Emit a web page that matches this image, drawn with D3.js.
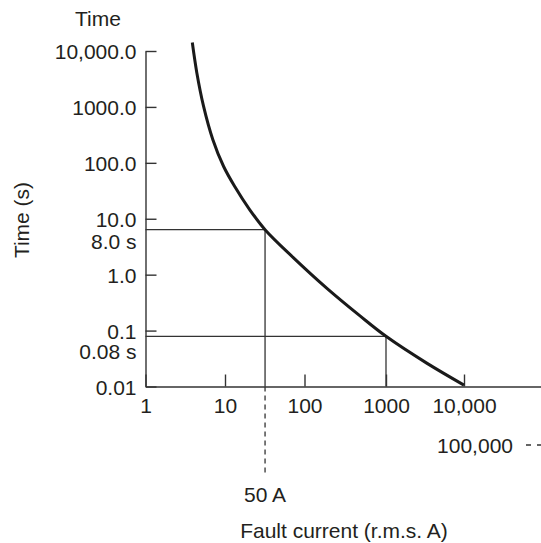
<!DOCTYPE html>
<html>
<head>
<meta charset="utf-8">
<script src="https://cdn.jsdelivr.net/npm/d3@7"></script>
<style>
  html, body { margin: 0; padding: 0; background: #fff; }
  svg { display: block; }
  text { font-family: "Liberation Sans", Arial, Helvetica, sans-serif; font-size: 21px; fill: #231f20; }
</style>
</head>
<body>
<svg id="chart" width="541" height="543"></svg>
<script>
// ---- data ----
const curveCurrent = [3.88, 4.42, 5.37, 7.02, 9.58, 13.2, 20.4, 31.9, 72.3, 187, 480, 1000, 3327, 10000];
const curveTime    = [14160, 4100, 1033, 262, 86.9, 38.1, 14.6, 6.38, 2.02, 0.575, 0.183, 0.079, 0.0262, 0.0106];

const xTickValues = [1, 10, 100, 1000, 10000];
const xTickLabels = ["1", "10", "100", "1000", "10,000"];
const yTickValues = [0.01, 0.1, 1, 10, 100, 1000, 10000];
const yTickLabels = ["0.01", "0.1", "1.0", "10.0", "100.0", "1000.0", "10,000.0"];

const markerCurrent = [31.9, 1000];
const markerTime = [6.38, 0.079];
const markerTimeLabels = ["8.0 s", "0.08 s"];
const markerCurrentLabel = "50 A";
const offAxisLabel = "100,000";
const offAxisValue = 100000;

// ---- layout ----
const ORANGE = "#c5661c";
const INK = "#231f20";
const AXIS = "#333";
const markerLabelDy = [19, 23];

const svg = d3.select("#chart");
// decade positions as drawn in the reference (slightly uneven)
const x = d3.scaleLog()
  .domain([1, 10, 100, 1000, 10000, 100000])
  .range([145.5, 225, 304.5, 386, 464, 543]);
const y = d3.scaleLog().domain([0.01, 10000]).range([386.5, 51]);

// y axis
const yAxis = d3.axisLeft(y)
  .tickValues(yTickValues)
  .tickFormat((d, i) => yTickLabels[i])
  .tickSizeInner(-11)
  .tickSizeOuter(0)
  .tickPadding(9);
const gy = svg.append("g").attr("transform", `translate(${x(1)},0)`).call(yAxis);
gy.attr("font-size", null).attr("font-family", null);
gy.select(".domain").attr("stroke", AXIS).attr("stroke-width", 1.4);
gy.selectAll(".tick line").attr("stroke", AXIS).attr("stroke-width", 1.4);
gy.selectAll(".tick text").attr("fill", INK).attr("dy", "0.38em");

// x axis
const xAxis = d3.axisBottom(x)
  .tickValues(xTickValues)
  .tickFormat((d, i) => xTickLabels[i])
  .tickSizeInner(-12)
  .tickSizeOuter(0)
  .tickPadding(12);
const gx = svg.append("g").attr("transform", `translate(0,${y(0.01)})`).call(xAxis);
gx.attr("font-size", null).attr("font-family", null);
gx.select(".domain").attr("stroke", AXIS).attr("stroke-width", 1.4);
gx.selectAll(".tick line").attr("stroke", AXIS).attr("stroke-width", 1.4);
gx.selectAll(".tick text").attr("fill", (d) => d === 1000 ? ORANGE : INK).attr("dy", "0.71em");

// marker lines
markerCurrent.forEach((c, i) => {
  const t = markerTime[i];
  svg.append("line")
    .attr("x1", x(1)).attr("x2", x(c))
    .attr("y1", y(t)).attr("y2", y(t))
    .attr("stroke", AXIS).attr("stroke-width", 1.3);
  svg.append("line")
    .attr("x1", x(c)).attr("x2", x(c))
    .attr("y1", y(t)).attr("y2", y(0.01))
    .attr("stroke", AXIS).attr("stroke-width", 1.3);
  svg.append("text")
    .attr("x", x(1) - 9).attr("y", y(t) + markerLabelDy[i])
    .attr("text-anchor", "end")
    .attr("fill", ORANGE)
    .text(markerTimeLabels[i]);
});

// dashed extension below axis for 50 A
svg.append("line")
  .attr("x1", x(markerCurrent[0])).attr("x2", x(markerCurrent[0]))
  .attr("y1", y(0.01)).attr("y2", y(0.01) + 88)
  .attr("stroke", AXIS).attr("stroke-width", 1.3)
  .attr("stroke-dasharray", "5,4");
svg.append("text")
  .attr("x", x(markerCurrent[0])).attr("y", 502)
  .attr("text-anchor", "middle")
  .attr("fill", ORANGE)
  .text(markerCurrentLabel);

// off-axis 100,000 label with leader
svg.append("text")
  .attr("x", 513).attr("y", 453)
  .attr("text-anchor", "end")
  .text(offAxisLabel);
svg.append("line")
  .attr("x1", 526).attr("x2", x(offAxisValue))
  .attr("y1", 445).attr("y2", 445)
  .attr("stroke", AXIS).attr("stroke-width", 1.3)
  .attr("stroke-dasharray", "5,6");

// curve
const pts = curveCurrent.map((c, i) => [c, curveTime[i]]);
const line = d3.line()
  .x(d => x(d[0])).y(d => y(d[1]))
  .curve(d3.curveCatmullRom.alpha(0.5));
svg.append("path")
  .datum(pts)
  .attr("d", line)
  .attr("fill", "none")
  .attr("stroke", "#1a1a1a")
  .attr("stroke-width", 3);

// titles
svg.append("text").attr("x", 98).attr("y", 26).attr("text-anchor", "middle").text("Time");
svg.append("text")
  .attr("transform", "translate(29,220) rotate(-90)")
  .attr("text-anchor", "middle")
  .text("Time (s)");
svg.append("text").attr("x", 344).attr("y", 538).attr("text-anchor", "middle").text("Fault current (r.m.s. A)");
</script>
</body>
</html>
